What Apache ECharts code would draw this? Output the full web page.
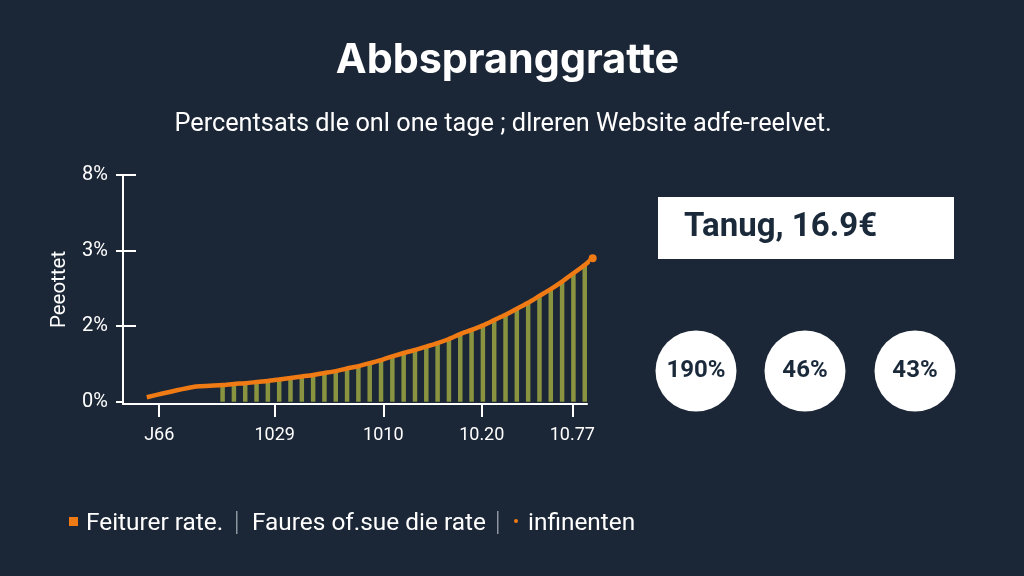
<!DOCTYPE html>
<html lang="en">
<head>
  <meta charset="UTF-8">
  <title>Abbspranggratte</title>
  <script src="https://cdn.jsdelivr.net/npm/echarts/dist/echarts.min.js"></script>
  <style>
    html, body { margin: 0; padding: 0; background: #1b2636; }
    #chart { width: 1024px; height: 576px; }
  </style>
</head>
<body>
  <div id="chart"></div>
<script>
  // bars sit on integer x positions, the line starts before them and ends after them
  const barValues = [
    0.44, 0.47, 0.49, 0.52, 0.55, 0.59, 0.63, 0.67, 0.71, 0.76, 0.81,
    0.88, 0.94, 1.02, 1.10, 1.20, 1.29, 1.37, 1.46, 1.55, 1.66, 1.79,
    1.90, 2.01, 2.08, 2.15, 2.23, 2.31, 2.40, 2.49, 2.59, 2.70, 2.81
  ];
  const lineStartX = [-6.7, -2.6];
  const lineStartValues = [0.12, 0.39];
  const lineEndX = [32.7];
  const lineEndValues = [2.90];

  const xTickValues = [-5.6, 4.6, 14.2, 22.9, 30.9];
  const xTickLabels = ["J66", "1029", "1010", "10.20", "10.77"];
  const yTickPercents = [0, 2, 3, 8];
  const yTickLabels = ["0%", "2%", "3%", "8%"];

  const badgeValues = ["190%", "46%", "43%"];

  const bgColor = "#1b2636";
  const inkColor = "#1b2a3b";
  const orange = "#f07a14";
  const olive = "#8a9440";
  const fontName = "Roboto";

  // the axis ticks are evenly spaced but their labels are not, so map percent to tick steps
  function toAxis(p) {
    if (p <= 2) return p / 2;
    if (p <= 3) return p - 1;
    return 2 + (p - 3) / 5;
  }

  const yTickValues = yTickPercents.map(toAxis);
  const barX = barValues.map((v, i) => i);
  const lineData = []
    .concat(lineStartX.map((x, i) => [x, toAxis(lineStartValues[i])]))
    .concat(barX.map((x, i) => [x, toAxis(barValues[i])]))
    .concat(lineEndX.map((x, i) => [x, toAxis(lineEndValues[i])]));

  function label(x, y, text, size, color, extra) {
    return {
      type: "text",
      x: x,
      y: y,
      silent: true,
      style: Object.assign({
        text: text,
        fill: color,
        fontFamily: fontName,
        fontSize: size,
        textAlign: "left",
        textVerticalAlign: "middle"
      }, extra || {})
    };
  }

  const badgeX = [696, 805, 915];
  const graphics = [
    label(507.5, 61, "Abbspranggratte", 41.3, "#ffffff", { textAlign: "center", fontWeight: "bold", fontFamily: "Inter" }),
    label(503, 125, "Percentsats dle onl one tage ; dlreren Website adfe-reelvet.", 25.3, "#ffffff", { textAlign: "center" }),
    { type: "rect", silent: true, shape: { x: 658, y: 197, width: 296, height: 62 }, style: { fill: "#ffffff" } },
    label(684, 228, "Tanug, 16.9€", 33, inkColor, { fontWeight: "bold" }),
    { type: "rect", silent: true, shape: { x: 69, y: 517, width: 9, height: 9 }, style: { fill: orange } },
    label(86, 524, "Feiturer rate.", 24.4, "#ffffff"),
    { type: "rect", silent: true, shape: { x: 236, y: 511, width: 1.5, height: 23 }, style: { fill: "#8d95a0" } },
    label(252, 524, "Faures of.sue die rate", 24.4, "#ffffff"),
    { type: "rect", silent: true, shape: { x: 497, y: 511, width: 1.5, height: 23 }, style: { fill: "#8d95a0" } },
    { type: "circle", silent: true, shape: { cx: 516, cy: 521, r: 2 }, style: { fill: orange } },
    label(528, 524, "infinenten", 24.4, "#ffffff")
  ];
  badgeValues.forEach((text, i) => {
    graphics.push({ type: "circle", silent: true, shape: { cx: badgeX[i], cy: 371, r: 40.5 }, style: { fill: "#ffffff" } });
    graphics.push(label(badgeX[i], 371, text, 24, inkColor, { textAlign: "center", fontWeight: "bold" }));
  });

  const chart = echarts.init(document.getElementById("chart"));
  chart.setOption({
    animation: false,
    backgroundColor: bgColor,
    textStyle: { fontFamily: fontName },
    grid: { left: 123, top: 175, width: 464, height: 229 },
    xAxis: {
      type: "value",
      min: -8.8,
      max: 32.2,
      splitLine: { show: false },
      axisLine: { onZero: false, lineStyle: { color: "#ffffff", width: 2 } },
      axisTick: { show: true, length: 13, customValues: xTickValues, lineStyle: { color: "#ffffff", width: 2 } },
      axisLabel: {
        customValues: xTickValues,
        margin: 22,
        color: "#ffffff",
        fontSize: 18,
        formatter: (v) => xTickLabels[xTickValues.indexOf(v)]
      }
    },
    yAxis: [
      {
        type: "value",
        min: -0.03,
        max: 3,
        name: "Peeottet",
        nameLocation: "middle",
        nameRotate: 90,
        nameGap: 53,
        nameTextStyle: { color: "#ffffff", fontSize: 20.5 },
        splitLine: { show: false },
        axisLine: { show: true, onZero: false, lineStyle: { color: "#ffffff", width: 2 } },
        axisTick: { show: true, length: 7, customValues: yTickValues, lineStyle: { color: "#ffffff", width: 2 } },
        axisLabel: {
          customValues: yTickValues,
          margin: 15,
          color: "#ffffff",
          fontSize: 20,
          formatter: (v) => yTickLabels[yTickValues.indexOf(v)]
        }
      },
      {
        // only draws the right half of the upper ticks
        type: "value",
        position: "left",
        min: -0.03,
        max: 3,
        splitLine: { show: false },
        axisLine: { show: false, onZero: false },
        axisLabel: { show: false },
        axisTick: { show: true, inside: true, length: 13, customValues: yTickValues.slice(1), lineStyle: { color: "#ffffff", width: 2 } }
      }
    ],
    series: [
      {
        name: "Faures of.sue die rate",
        type: "bar",
        barWidth: 4.5,
        itemStyle: { color: olive },
        data: barX.map((x, i) => [x, toAxis(barValues[i])])
      },
      {
        name: "Feiturer rate.",
        type: "line",
        clip: false,
        smooth: 0.2,
        symbol: "circle",
        symbolSize: (v, p) => (p.dataIndex === lineData.length - 1 ? 8 : 0),
        showAllSymbol: true,
        lineStyle: { color: orange, width: 4.5 },
        itemStyle: { color: orange },
        data: lineData
      }
    ],
    graphic: graphics
  });
</script>
</body>
</html>
